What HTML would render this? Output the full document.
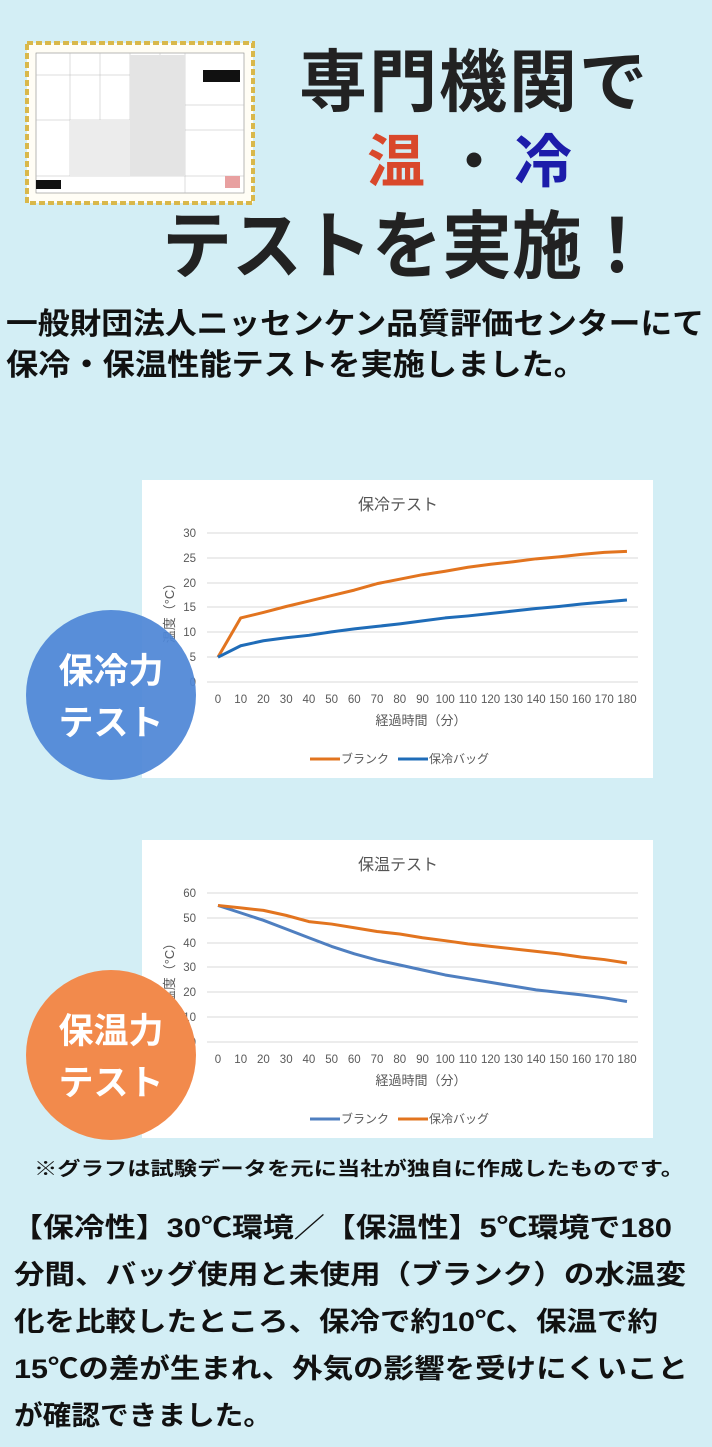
<!DOCTYPE html>
<html><head><meta charset="utf-8"><style>
html,body{margin:0;padding:0;background:#d3eef5;}
svg{display:block}
.jp{font-family:"Liberation Sans","Noto Sans CJK JP",sans-serif;}
</style></head><body>
<svg width="712" height="1447" viewBox="0 0 712 1447" xmlns="http://www.w3.org/2000/svg" class="jp">
<rect width="712" height="1447" fill="#d3eef5"/>
<!-- certificate -->
<rect x="27" y="43" width="226" height="160" fill="#fffdf5" stroke="#d9b84a" stroke-width="4" stroke-dasharray="6 3"/>
<rect x="36" y="53" width="208" height="140" fill="#fff" stroke="#888" stroke-width="0.6"/>
<g stroke="#bbb" stroke-width="0.5">
<line x1="36" y1="75" x2="185" y2="75"/><line x1="36" y1="120" x2="185" y2="120"/>
<line x1="36" y1="176" x2="244" y2="176"/><line x1="185" y1="53" x2="185" y2="193"/>
<line x1="70" y1="53" x2="70" y2="176"/><line x1="100" y1="53" x2="100" y2="176"/>
<line x1="130" y1="53" x2="130" y2="176"/><line x1="160" y1="53" x2="160" y2="176"/>
<line x1="185" y1="105" x2="244" y2="105"/><line x1="185" y1="130" x2="244" y2="130"/>
</g>
<rect x="130" y="55" width="55" height="121" fill="#e4e4e4"/>
<rect x="70" y="120" width="60" height="56" fill="#ececec"/>
<rect x="203" y="70" width="37" height="12" fill="#111"/>
<rect x="36" y="180" width="25" height="9" fill="#111"/>
<rect x="225" y="176" width="15" height="12" fill="#e8a0a0"/>
<!-- headline -->
<text x="474" y="106" font-size="68" font-weight="bold" fill="#222" text-anchor="middle" letter-spacing="2">専門機関で</text>
<text x="396" y="182" font-size="58" font-weight="bold" fill="#d9482b" text-anchor="middle">温</text>
<text x="474" y="182" font-size="58" font-weight="bold" fill="#222" text-anchor="middle">・</text>
<text x="543" y="182" font-size="58" font-weight="bold" fill="#1c1caa" text-anchor="middle">冷</text>
<text x="162" y="272" font-size="74" font-weight="bold" fill="#222" textLength="490" lengthAdjust="spacingAndGlyphs">テストを実施！</text>
<text x="6" y="334" font-size="30" font-weight="bold" fill="#111" textLength="698" lengthAdjust="spacingAndGlyphs">一般財団法人ニッセンケン品質評価センターにて</text>
<text x="6" y="375" font-size="30" font-weight="bold" fill="#111" textLength="580" lengthAdjust="spacingAndGlyphs">保冷・保温性能テストを実施しました。</text>

<!-- chart 1 -->
<rect x="142" y="480" width="511" height="298" fill="#fff"/>
<text x="398" y="510" font-size="16" fill="#555" text-anchor="middle">保冷テスト</text>
<g stroke="#d9d9d9" stroke-width="1">
<line x1="207" y1="533" x2="638" y2="533"/><line x1="207" y1="558" x2="638" y2="558"/>
<line x1="207" y1="583" x2="638" y2="583"/><line x1="207" y1="607" x2="638" y2="607"/>
<line x1="207" y1="632" x2="638" y2="632"/><line x1="207" y1="657" x2="638" y2="657"/>
<line x1="207" y1="682" x2="638" y2="682"/>
</g>
<g font-size="11.5" fill="#595959" text-anchor="end">
<text x="196" y="537">30</text><text x="196" y="562">25</text><text x="196" y="587">20</text><text x="196" y="611">15</text><text x="196" y="636">10</text><text x="196" y="661">5</text><text x="196" y="686">0</text>
</g>
<g font-size="11.5" fill="#595959" text-anchor="middle">
<text x="218" y="703">0</text><text x="240.7" y="703">10</text><text x="263.4" y="703">20</text><text x="286.2" y="703">30</text><text x="308.9" y="703">40</text><text x="331.6" y="703">50</text><text x="354.3" y="703">60</text><text x="377" y="703">70</text><text x="399.8" y="703">80</text><text x="422.5" y="703">90</text><text x="445.2" y="703">100</text><text x="467.9" y="703">110</text><text x="490.6" y="703">120</text><text x="513.4" y="703">130</text><text x="536.1" y="703">140</text><text x="558.8" y="703">150</text><text x="581.5" y="703">160</text><text x="604.2" y="703">170</text><text x="627" y="703">180</text>
</g>
<text x="421" y="725" font-size="13" fill="#595959" text-anchor="middle">経過時間（分）</text>
<text transform="translate(174,610) rotate(-90)" font-size="13" fill="#595959" text-anchor="middle">温度（°C）</text>
<g transform="translate(218,682) scale(22.72,-4.967)" fill="none" stroke-width="3" stroke-linejoin="round">
<polyline vector-effect="non-scaling-stroke" stroke="#e2741f" points="0,5 1,12.9 2,14 3,15.2 4,16.3 5,17.4 6,18.5 7,19.8 8,20.7 9,21.6 10,22.3 11,23.1 12,23.7 13,24.2 14,24.8 15,25.2 16,25.7 17,26.1 18,26.3"/>
<polyline vector-effect="non-scaling-stroke" stroke="#1f6cb8" points="0,5 1,7.3 2,8.3 3,8.9 4,9.4 5,10.1 6,10.7 7,11.2 8,11.7 9,12.3 10,12.9 11,13.3 12,13.8 13,14.3 14,14.8 15,15.2 16,15.7 17,16.1 18,16.5"/>
</g>
<line x1="310" y1="759" x2="340" y2="759" stroke="#e2741f" stroke-width="3"/>
<text x="341" y="763" font-size="12" fill="#595959">ブランク</text>
<line x1="398" y1="759" x2="428" y2="759" stroke="#1f6cb8" stroke-width="3"/>
<text x="429" y="763" font-size="12" fill="#595959">保冷バッグ</text>
<circle cx="111" cy="695" r="85" fill="#4f86d6" fill-opacity="0.93"/>
<text x="111" y="683" font-size="35" font-weight="bold" fill="#fff" text-anchor="middle">保冷力</text>
<text x="111" y="735" font-size="35" font-weight="bold" fill="#fff" text-anchor="middle">テスト</text>

<!-- chart 2 -->
<rect x="142" y="840" width="511" height="298" fill="#fff"/>
<text x="398" y="870" font-size="16" fill="#555" text-anchor="middle">保温テスト</text>
<g stroke="#d9d9d9" stroke-width="1">
<line x1="207" y1="893" x2="638" y2="893"/><line x1="207" y1="918" x2="638" y2="918"/>
<line x1="207" y1="943" x2="638" y2="943"/><line x1="207" y1="967" x2="638" y2="967"/>
<line x1="207" y1="992" x2="638" y2="992"/><line x1="207" y1="1017" x2="638" y2="1017"/>
<line x1="207" y1="1042" x2="638" y2="1042"/>
</g>
<g font-size="11.5" fill="#595959" text-anchor="end">
<text x="196" y="897">60</text><text x="196" y="922">50</text><text x="196" y="947">40</text><text x="196" y="971">30</text><text x="196" y="996">20</text><text x="196" y="1021">10</text><text x="196" y="1046">0</text>
</g>
<g font-size="11.5" fill="#595959" text-anchor="middle">
<text x="218" y="1063">0</text><text x="240.7" y="1063">10</text><text x="263.4" y="1063">20</text><text x="286.2" y="1063">30</text><text x="308.9" y="1063">40</text><text x="331.6" y="1063">50</text><text x="354.3" y="1063">60</text><text x="377" y="1063">70</text><text x="399.8" y="1063">80</text><text x="422.5" y="1063">90</text><text x="445.2" y="1063">100</text><text x="467.9" y="1063">110</text><text x="490.6" y="1063">120</text><text x="513.4" y="1063">130</text><text x="536.1" y="1063">140</text><text x="558.8" y="1063">150</text><text x="581.5" y="1063">160</text><text x="604.2" y="1063">170</text><text x="627" y="1063">180</text>
</g>
<text x="421" y="1085" font-size="13" fill="#595959" text-anchor="middle">経過時間（分）</text>
<text transform="translate(174,970) rotate(-90)" font-size="13" fill="#595959" text-anchor="middle">温度（°C）</text>
<g transform="translate(218,1042) scale(22.72,-2.483)" fill="none" stroke-width="3" stroke-linejoin="round">
<polyline vector-effect="non-scaling-stroke" stroke="#4f7fc0" points="0,55 1,52 2,49 3,45.5 4,42 5,38.5 6,35.5 7,33 8,31 9,29 10,27 11,25.5 12,24 13,22.5 14,21 15,20 16,19 17,17.8 18,16.3"/>
<polyline vector-effect="non-scaling-stroke" stroke="#e2741f" points="0,55 1,54 2,53 3,51 4,48.5 5,47.5 6,46 7,44.5 8,43.5 9,42 10,40.8 11,39.5 12,38.5 13,37.5 14,36.5 15,35.5 16,34.2 17,33.2 18,31.8"/>
</g>
<line x1="310" y1="1119" x2="340" y2="1119" stroke="#4f7fc0" stroke-width="3"/>
<text x="341" y="1123" font-size="12" fill="#595959">ブランク</text>
<line x1="398" y1="1119" x2="428" y2="1119" stroke="#e2741f" stroke-width="3"/>
<text x="429" y="1123" font-size="12" fill="#595959">保冷バッグ</text>
<circle cx="111" cy="1055" r="85" fill="#f28a4c"/>
<text x="111" y="1043" font-size="35" font-weight="bold" fill="#fff" text-anchor="middle">保温力</text>
<text x="111" y="1095" font-size="35" font-weight="bold" fill="#fff" text-anchor="middle">テスト</text>

<!-- notes -->
<text x="34" y="1175" font-size="19" font-weight="bold" fill="#111" textLength="650" lengthAdjust="spacingAndGlyphs">※グラフは試験データを元に当社が独自に作成したものです。</text>
<g font-size="27" font-weight="bold" fill="#111">
<text x="12" y="1237" textLength="660" lengthAdjust="spacingAndGlyphs">【保冷性】30℃環境／【保温性】5℃環境で180</text>
<text x="14" y="1284" textLength="672" lengthAdjust="spacingAndGlyphs">分間、バッグ使用と未使用（ブランク）の水温変</text>
<text x="14" y="1331" textLength="644" lengthAdjust="spacingAndGlyphs">化を比較したところ、保冷で約10℃、保温で約</text>
<text x="14" y="1378" textLength="674" lengthAdjust="spacingAndGlyphs">15℃の差が生まれ、外気の影響を受けにくいこと</text>
<text x="14" y="1425" textLength="258" lengthAdjust="spacingAndGlyphs">が確認できました。</text>
</g>
</svg>
</body></html>
